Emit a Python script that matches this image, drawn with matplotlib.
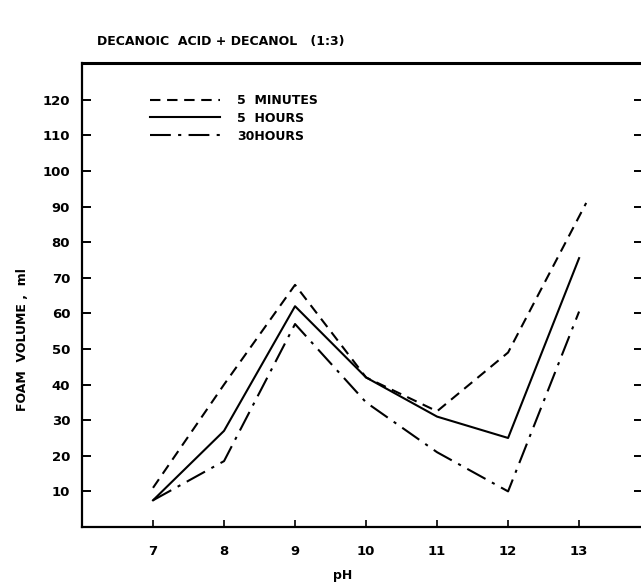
import matplotlib
matplotlib.use("Agg")
import matplotlib.pyplot as plt

# ---- data ----
ph = [7, 8, 9, 10, 11, 12, 13]
ph_5min = [7, 8, 9, 10, 11, 12, 13.1]
foam_5min = [11, 40, 68, 42, 32.5, 49, 91]
foam_5h = [7.5, 27, 62, 42, 31, 25, 75.5]
foam_30h = [7.5, 18.5, 57, 35, 21, 10, 60.5]
labels = ["5  MINUTES", "5  HOURS", "30HOURS"]
xticks = [7, 8, 9, 10, 11, 12, 13]
yticks = [10, 20, 30, 40, 50, 60, 70, 80, 90, 100, 110, 120]

W, H = 641, 582
fig = plt.figure(figsize=(W / 100, H / 100), dpi=100)
plt.rcParams['font.family'] = ['DejaVu Sans']

L, R, T, B = 82, 643, 63, 527
ax = fig.add_axes([L / W, 1 - B / H, (R - L) / W, (B - T) / H])

lw = 1.5
ax.plot(ph_5min, foam_5min, color='black', lw=lw, dashes=(5, 3.2), label=labels[0])
ax.plot(ph, foam_5h, color='black', lw=lw, linestyle='-', label=labels[1])
ax.plot(ph, foam_30h, color='black', lw=lw, dashes=(10, 3.5, 1.5, 3.5), label=labels[2])

ax.set_xlim(6.0, 13.9)
ax.set_ylim(0, 130.3)
ax.set_xticks(xticks)
ax.set_xticklabels([str(t) for t in xticks])
ax.set_yticks(yticks)
ax.set_yticklabels([str(t) for t in yticks])

for lab in ax.get_xticklabels() + ax.get_yticklabels():
    lab.set_fontsize(9.5)
    lab.set_fontweight('bold')

ax.tick_params(axis='y', direction='in', length=6.5, width=1.4, pad=8.5,
               left=True, right=True, labelright=False)
ax.tick_params(axis='x', direction='in', length=5, width=1.2, pad=13)

for side in ['left', 'bottom', 'right']:
    ax.spines[side].set_linewidth(1.6)
ax.spines['top'].set_linewidth(2.2)

leg = ax.legend(loc='upper left', bbox_to_anchor=(0.122, 0.933), frameon=False,
                handlelength=5.6, handletextpad=1.3, labelspacing=0.38,
                borderpad=0, borderaxespad=0,
                prop=dict(size=9, weight='bold'))

fig.text(97 / W, 1 - 41 / H, "DECANOIC  ACID + DECANOL   (1:3)",
         fontsize=9, fontweight='bold', ha='left', va='center')
fig.text(23 / W, 1 - 340 / H, "FOAM  VOLUME ,  ml", rotation=90,
         fontsize=9, fontweight='bold', ha='center', va='center')
fig.text(343 / W, 1 - 576 / H, "pH", fontsize=9, fontweight='bold',
         ha='center', va='center')

fig.savefig("out.png", dpi=100)
